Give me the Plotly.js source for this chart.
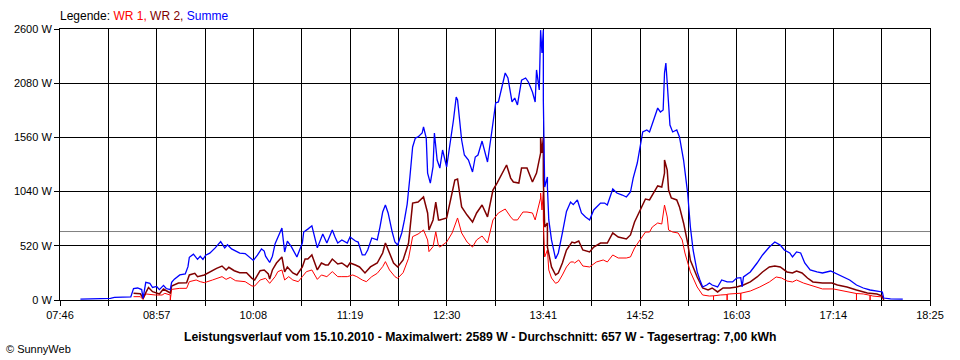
<!DOCTYPE html>
<html>
<head>
<meta charset="utf-8">
<script src="https://cdn.plot.ly/plotly-3.0.1.min.js"></script>
<style>
  html, body { margin: 0; padding: 0; background: #fff; }
  #chart { width: 960px; height: 360px; }
</style>
</head>
<body>
<div id="chart"></div>
<script>
// ---------- data ----------
const xTickLabels = ["07:46","08:57","10:08","11:19","12:30","13:41","14:52","16:03","17:14","18:25"];
const yTickValues = [0, 520, 1040, 1560, 2080, 2600];
const averageW = 657;

const summeTimes = ["08:01","08:23","08:26","08:38","08:40","08:43","08:46","08:47","08:49","08:52","08:54","08:57","08:59","09:02","09:04","09:07","09:08","09:10","09:14","09:18","09:20","09:21","09:24","09:27","09:29","09:31","09:33","09:36","09:40","09:44","09:47","09:49","09:52","09:55","09:58","10:02","10:06","10:08","10:11","10:14","10:16","10:17","10:20","10:22","10:24","10:26","10:29","10:31","10:33","10:36","10:40","10:44","10:45","10:48","10:51","10:55","10:57","10:59","11:02","11:06","11:08","11:10","11:13","11:17","11:19","11:23","11:25","11:28","11:30","11:32","11:35","11:39","11:41","11:43","11:45","11:47","11:50","11:52","11:54","11:57","11:59","12:01","12:03","12:05","12:07","12:09","12:12","12:13","12:15","12:16","12:18","12:20","12:21","12:23","12:25","12:27","12:30","12:32","12:35","12:37","12:38","12:41","12:43","12:46","12:49","12:51","12:53","12:56","12:58","13:00","13:03","13:06","13:08","13:11","13:13","13:15","13:18","13:20","13:22","13:25","13:28","13:30","13:33","13:35","13:36","13:38","13:39","13:39","13:40","13:41","13:41","13:42","13:44","13:44","13:45","13:47","13:50","13:52","13:55","13:58","14:01","14:03","14:06","14:09","14:12","14:15","14:18","14:23","14:26","14:28","14:32","14:35","14:39","14:42","14:45","14:47","14:50","14:52","14:54","14:57","14:59","15:02","15:05","15:07","15:09","15:10","15:11","15:12","15:13","15:14","15:16","15:19","15:21","15:24","15:27","15:29","15:31","15:34","15:36","15:38","15:41","15:43","15:45","15:49","15:52","15:56","16:00","16:03","16:06","16:07","16:08","16:13","16:18","16:22","16:27","16:31","16:35","16:38","16:42","16:44","16:47","16:50","16:53","16:57","17:02","17:06","17:12","17:17","17:21","17:26","17:31","17:36","17:41","17:46","17:50","17:51","17:56","18:05"];
const summeW = [8,15,25,30,110,115,100,15,170,160,120,130,100,140,110,100,170,200,240,250,320,410,440,390,420,390,430,450,500,560,500,530,490,470,450,445,400,380,430,490,470,420,360,420,540,600,690,460,565,510,413,547,652,680,712,500,576,633,547,672,604,547,576,547,604,566,556,432,432,480,595,576,700,844,911,835,652,556,527,643,768,920,1180,1468,1554,1564,1602,1660,1554,1218,1122,1280,1602,1343,1266,1439,1276,1439,1727,1948,1919,1535,1391,1343,1228,1372,1391,1525,1410,1324,1602,1890,1900,2063,2178,2130,1900,1938,1871,2110,2130,2092,1996,1900,2207,2015,2399,2589,2370,2589,1919,1084,1180,1084,768,576,395,451,643,850,940,915,960,835,797,768,864,930,930,911,1065,1026,1007,988,1036,1170,1314,1468,1612,1631,1612,1727,1842,1804,1823,2178,2274,2082,1823,1679,1612,1631,1564,1343,1026,700,480,270,192,125,144,163,144,125,192,173,173,211,215,125,221,269,355,432,508,556,527,480,451,413,461,451,355,288,269,259,278,250,221,192,144,115,96,86,77,19,10,8];

const wr2Times = ["08:40","08:45","08:47","08:51","08:54","08:59","09:02","09:07","09:08","09:13","09:19","09:21","09:25","09:27","09:32","09:36","09:41","09:45","09:48","09:50","09:54","09:58","10:03","10:07","10:09","10:13","10:16","10:19","10:20","10:22","10:25","10:29","10:31","10:33","10:37","10:40","10:44","10:46","10:48","10:51","10:55","10:58","11:01","11:03","11:06","11:10","11:13","11:17","11:19","11:23","11:26","11:30","11:34","11:39","11:43","11:45","11:48","11:51","11:54","11:58","12:02","12:05","12:09","12:13","12:16","12:17","12:20","12:22","12:24","12:25","12:30","12:36","12:38","12:41","12:45","12:49","12:52","12:56","13:00","13:04","13:07","13:11","13:14","13:17","13:19","13:23","13:25","13:29","13:33","13:36","13:39","13:39","13:40","13:41","13:41","13:42","13:44","13:44","13:47","13:50","13:52","13:55","13:58","14:02","14:04","14:07","14:10","14:15","14:18","14:23","14:28","14:32","14:36","14:42","14:45","14:48","14:52","14:56","14:59","15:02","15:05","15:08","15:10","15:10","15:12","15:13","15:15","15:19","15:21","15:24","15:27","15:29","15:34","15:38","15:42","15:45","15:49","15:53","15:58","16:03","16:08","16:13","16:18","16:22","16:27","16:31","16:35","16:40","16:44","16:47","16:51","16:55","16:59","17:06","17:13","17:17","17:24","17:31","17:39","17:46","17:50","17:51"];
const wr2W = [65,60,20,120,80,58,105,67,134,163,166,240,256,224,240,272,304,326,288,314,281,262,262,208,192,281,288,250,200,288,355,413,269,317,259,240,317,393,393,432,288,355,336,336,393,345,355,317,355,336,317,259,317,355,451,547,451,355,317,384,547,930,940,988,835,672,768,940,768,768,787,1151,1161,893,815,748,835,911,797,1055,1122,1228,1295,1170,1132,1122,1266,1266,1132,1218,1410,1554,1410,1564,1151,700,739,508,317,240,259,355,480,556,547,566,480,461,508,547,547,643,604,585,624,748,864,969,960,1026,1094,1084,1218,1343,1247,1055,979,960,893,739,547,380,221,115,96,115,77,115,115,125,144,173,221,269,317,326,317,269,259,278,259,211,173,163,163,144,125,96,67,58,38,0];

const wr1Times = ["08:40","08:45","08:47","08:49","08:56","09:01","09:03","09:07","09:07","09:08","09:14","09:19","09:21","09:26","09:29","09:32","09:38","09:41","09:45","09:48","09:51","09:55","10:02","10:07","10:09","10:13","10:17","10:20","10:24","10:26","10:29","10:31","10:34","10:37","10:41","10:44","10:47","10:51","10:55","10:58","11:02","11:06","11:10","11:13","11:17","11:21","11:24","11:28","11:31","11:35","11:39","11:43","11:45","11:48","11:52","11:54","11:58","12:02","12:05","12:09","12:13","12:16","12:17","12:20","12:22","12:24","12:25","12:30","12:34","12:38","12:41","12:45","12:49","12:52","12:56","13:00","13:04","13:08","13:13","13:17","13:19","13:22","13:26","13:29","13:33","13:35","13:37","13:39","13:39","13:40","13:41","13:41","13:42","13:44","13:45","13:47","13:50","13:52","13:55","13:58","14:01","14:03","14:04","14:07","14:10","14:15","14:20","14:25","14:28","14:32","14:36","14:42","14:45","14:48","14:52","14:56","14:59","15:01","15:05","15:08","15:10","15:12","15:13","15:16","15:20","15:23","15:25","15:29","15:34","15:38","15:43","15:46","15:46","15:46","15:51","15:56","15:56","15:56","15:58","16:03","16:06","16:06","16:06","16:13","16:20","16:27","16:32","16:36","16:40","16:44","16:47","16:52","16:57","17:02","17:06","17:14","17:21","17:28","17:31","17:31","17:31","17:36","17:41","17:41","17:41","17:43","17:50","17:51"];
const wr1W = [32,32,5,58,48,48,64,48,0,102,112,112,176,192,176,166,192,208,224,198,217,185,176,134,134,192,208,160,224,272,288,192,224,192,176,224,272,288,198,240,224,272,224,224,224,240,224,192,176,224,256,320,368,288,224,208,262,400,608,633,672,576,464,512,655,518,508,556,643,787,643,556,508,576,614,547,768,835,873,797,768,768,844,844,835,768,864,979,1026,864,1036,768,413,480,288,211,160,173,240,317,365,365,355,384,326,317,365,384,365,432,403,403,413,499,576,652,652,700,739,729,911,797,672,652,643,576,451,270,125,48,38,40,0,40,48,52,0,55,58,62,65,0,65,86,125,173,221,211,182,173,192,163,144,125,106,106,86,67,62,0,62,58,45,0,45,38,29,0];

const titleText = "Leistungsverlauf vom 15.10.2010 - Maximalwert: 2589 W - Durchschnitt: 657 W - Tagesertrag: 7,00 kWh";
const creditText = "© SunnyWeb";

// ---------- helpers ----------
function toMin(s) { const p = s.split(":"); return (+p[0]) * 60 + (+p[1]); }

const labelMins = xTickLabels.map(toMin);
const xTickVals = [], xTickText = [];
labelMins.forEach((m, i) => {
  xTickVals.push(m); xTickText.push(xTickLabels[i]);
  if (i < labelMins.length - 1) { xTickVals.push((m + labelMins[i + 1]) / 2); xTickText.push(""); }
});

const FONT = "Liberation Sans, Arial, sans-serif";
const PLOT_W = 870;

const traces = [
  { x: wr1Times.map(toMin), y: wr1W, mode: "lines", name: "WR 1",
    line: { color: "#FF0000", width: 1 }, hoverinfo: "skip" },
  { x: wr2Times.map(toMin), y: wr2W, mode: "lines", name: "WR 2",
    line: { color: "#800000", width: 1.5 }, hoverinfo: "skip" },
  { x: summeTimes.map(toMin), y: summeW, mode: "lines", name: "Summe",
    line: { color: "#0000FF", width: 1.3 }, hoverinfo: "skip" }
];

const layout = {
  width: 960, height: 360,
  margin: { l: 60, r: 30, t: 29, b: 60, pad: 0 },
  paper_bgcolor: "#FFFFFF", plot_bgcolor: "#FFFFFF",
  showlegend: false,
  font: { family: FONT, size: 11, color: "#000" },
  xaxis: {
    range: [labelMins[0], labelMins[labelMins.length - 1]],
    tickmode: "array", tickvals: xTickVals, ticktext: xTickText,
    showgrid: true, gridcolor: "#000", gridwidth: 1,
    showline: true, linecolor: "#000", linewidth: 1, mirror: true,
    ticks: "outside", ticklen: 5, tickcolor: "#000", tickwidth: 1,
    zeroline: false, fixedrange: true,
    tickfont: { family: FONT, size: 11, color: "#000" }
  },
  yaxis: {
    range: [yTickValues[0], yTickValues[yTickValues.length - 1]],
    tickmode: "array", tickvals: yTickValues, ticktext: yTickValues.map(v => v + " W"),
    showgrid: true, gridcolor: "#000", gridwidth: 1,
    showline: true, linecolor: "#000", linewidth: 1, mirror: true,
    ticks: "outside", ticklen: 5, tickcolor: "#000", tickwidth: 1,
    zeroline: false, fixedrange: true,
    tickfont: { family: FONT, size: 11, color: "#000" }
  },
  shapes: [
    { type: "line", xref: "paper", x0: 0, x1: 1, yref: "y", y0: averageW, y1: averageW,
      line: { color: "#808080", width: 1 }, layer: "between" }
  ],
  annotations: [
    { xref: "paper", yref: "paper", x: 0, y: 1, xanchor: "left", yanchor: "bottom", yshift: 4, xshift: -2,
      showarrow: false, align: "left",
      text: 'Legende: <span style="color:#FF0000">WR 1, </span><span style="color:#800000">WR 2, </span><span style="color:#0000FF">Summe</span>',
      font: { family: FONT, size: 12, color: "#000" } },
    { xref: "paper", yref: "paper", x: (480 - 60) / PLOT_W, y: 0, xanchor: "center", yanchor: "middle", yshift: -37,
      showarrow: false, text: "<b>" + titleText + "</b>",
      font: { family: FONT, size: 12.2, color: "#000" } },
    { xref: "paper", yref: "paper", x: -60 / PLOT_W, y: 0, xanchor: "left", yanchor: "middle", yshift: -49, xshift: 4,
      showarrow: false, text: creditText,
      font: { family: FONT, size: 11, color: "#000" } }
  ]
};

Plotly.newPlot("chart", traces, layout, { displayModeBar: false, staticPlot: true });
</script>
</body>
</html>
